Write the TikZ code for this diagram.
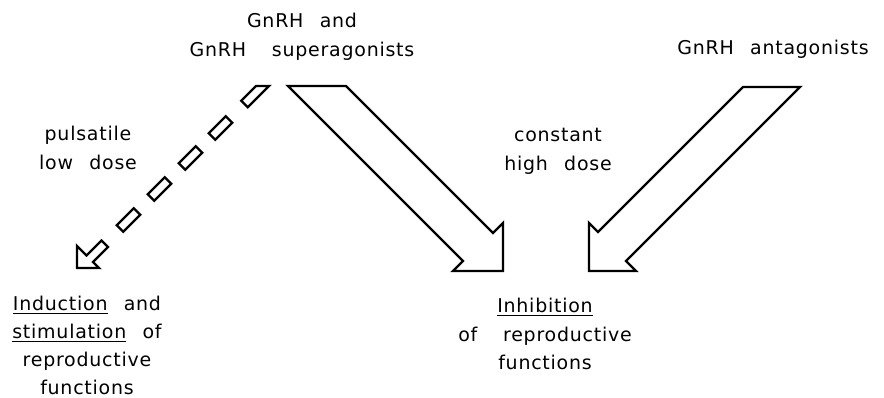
\documentclass[tikz,border=0pt]{standalone}
\usepackage{fontspec}
\setmainfont{DejaVu Sans}[LetterSpace=4,WordSpace=2.4]
\tikzset{
  blockarrow/.style={draw, line width=1.3pt, line join=miter},
  lbl/.style={align=center, inner sep=0pt, anchor=north,
    font=\fontsize{10.8}{16.2}\selectfont}
}
\begin{document}
\begin{tikzpicture}[x=0.02cm, y=-0.02cm]
    \useasboundingbox (0,0) rectangle (884,398);
    \node [lbl] (agonists) at (302,13) {GnRH and\\GnRH\hspace{0.5em} superagonists};
    \node [lbl] (antagonists) at (773,40) {GnRH antagonists};
    \node [lbl] (pulsatile) at (88,126) {pulsatile\\low dose};
    \node [lbl] (constant) at (558,128) {constant\\high dose};
    \node [lbl, font=\fontsize{10.8}{15.8}\selectfont] (induction) at (87,296) {\underline{Induction} and\\\underline{stimulation} of\\reproductive\\functions};
    \node [lbl] (inhibition) at (545,298) {\underline{Inhibition}\\of\hspace{0.5em} reproductive\\functions};
    % dashed block arrow
    \draw [blockarrow] (256,86) -- (269,86) -- (247.75,107.25) -- (241.25,100.75) -- cycle;
    \draw [blockarrow] (225.75,116.25) -- (232.25,122.75) -- (215.25,139.75) -- (208.75,133.25) -- cycle;
    \draw [blockarrow] (195.75,146.25) -- (202.25,152.75) -- (185.25,169.75) -- (178.75,163.25) -- cycle;
    \draw [blockarrow] (164.75,177.25) -- (171.25,183.75) -- (154.25,200.75) -- (147.75,194.25) -- cycle;
    \draw [blockarrow] (133.75,208.25) -- (140.25,214.75) -- (123.25,231.75) -- (116.75,225.25) -- cycle;
    \draw [blockarrow] (108,247) -- (93,262) -- (99,268) -- (77,268) -- (77,246) -- (86.5,255.5) -- (101.5,240.5) -- cycle;
    % solid block arrows
    \draw [blockarrow] (288,86) -- (346,86) -- (493,233) -- (503,223) -- (503,271) -- (453,271) -- (463,261) -- cycle;
    \draw [blockarrow] (743,87) -- (800,87) -- (626,261) -- (636,271) -- (589,271) -- (589,223) -- (598,232) -- cycle;
\end{tikzpicture}
\end{document}
